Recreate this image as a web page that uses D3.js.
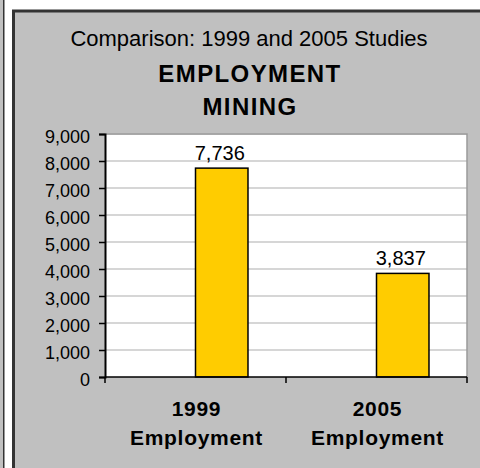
<!DOCTYPE html>
<html>
<head>
<meta charset="utf-8">
<script src="https://cdn.jsdelivr.net/npm/d3@7/dist/d3.min.js"></script>
<style>
  html, body { margin: 0; padding: 0; background: #ffffff; }
  svg { display: block; font-family: "Liberation Sans", Arial, sans-serif; }
</style>
</head>
<body>
<svg id="chart" width="480" height="468"></svg>
<script>
// Mining employment, 1999 vs 2005 studies
const categories = ["1999 Employment", "2005 Employment"];
const categoryLines = [["1999", "Employment"], ["2005", "Employment"]];
const employment = [7736, 3837];
const yTicks = [0, 1000, 2000, 3000, 4000, 5000, 6000, 7000, 8000, 9000];
const titleLines = ["Comparison: 1999 and 2005 Studies", "EMPLOYMENT", "MINING"];

const svg = d3.select("#chart");
const W = 480, H = 468;

// Left strip and chart frame
svg.append("rect").attr("x", 0).attr("y", 0).attr("width", 3).attr("height", H).attr("fill", "#c0c0c0");
svg.append("rect").attr("x", 3).attr("y", 0).attr("width", 1.5).attr("height", H).attr("fill", "#333333");
svg.append("rect").attr("x", 13.5).attr("y", 11).attr("width", W).attr("height", H)
  .attr("fill", "#c0c0c0").attr("stroke", "#333333").attr("stroke-width", 3);

// Plot area
const plot = { left: 105, right: 467, top: 134, bottom: 377 };

const x = d3.scaleBand().domain(categories).range([plot.left, plot.right]).padding(0);
const y = d3.scaleLinear().domain([0, 9000]).range([plot.bottom, plot.top]);

svg.append("rect")
  .attr("x", plot.left).attr("y", plot.top)
  .attr("width", plot.right - plot.left).attr("height", plot.bottom - plot.top)
  .attr("fill", "#ffffff");

// Gridlines
svg.append("g")
  .selectAll("line")
  .data(yTicks.filter(d => d > 0))
  .join("line")
  .attr("x1", plot.left).attr("x2", plot.right)
  .attr("y1", d => y(d)).attr("y2", d => y(d))
  .attr("stroke", "#c8c8c8").attr("stroke-width", 1.5);

// Plot border (top and right)
svg.append("path")
  .attr("d", `M${plot.left},${plot.top}H${plot.right}V${plot.bottom}`)
  .attr("fill", "none").attr("stroke", "#9a9a9a").attr("stroke-width", 1.5);

// Bars (each sits in the right half of its category band)
const barW = x.bandwidth() * 0.29;
svg.append("g")
  .selectAll("rect")
  .data(categories.map((c, i) => ({ c, v: employment[i] })))
  .join("rect")
  .attr("x", d => x(d.c) + x.bandwidth() / 2)
  .attr("y", d => y(d.v))
  .attr("width", barW)
  .attr("height", d => y(0) - y(d.v))
  .attr("fill", "#ffcc00")
  .attr("stroke", "#000000")
  .attr("stroke-width", 1.5);

// Value labels
svg.append("g")
  .selectAll("text")
  .data(categories.map((c, i) => ({ c, v: employment[i] })))
  .join("text")
  .attr("x", d => x(d.c) + x.bandwidth() / 2 + barW / 2 - 2)
  .attr("y", d => y(d.v) - 8)
  .attr("text-anchor", "middle")
  .attr("font-size", 20)
  .attr("fill", "#000")
  .text(d => d3.format(",")(d.v));

// Y axis
const yAxis = svg.append("g")
  .attr("transform", `translate(${plot.left},0)`)
  .call(d3.axisLeft(y).tickValues(yTicks).tickFormat(d3.format(",")).tickSize(6).tickPadding(9));
yAxis.select(".domain").attr("stroke", "#000").attr("stroke-width", 2);
yAxis.selectAll(".tick line").attr("stroke", "#000").attr("stroke-width", 1.5);
yAxis.selectAll(".tick text")
  .attr("font-size", 18).attr("font-family", "Liberation Sans, Arial, sans-serif")
  .attr("fill", "#000").attr("dy", "0.45em");

// X axis with ticks between categories
const xAxis = svg.append("g")
  .attr("transform", `translate(0,${plot.bottom})`);
xAxis.append("line")
  .attr("x1", plot.left).attr("x2", plot.right)
  .attr("stroke", "#000").attr("stroke-width", 1.5);
const boundaries = categories.map(c => x(c)).concat([x(categories[categories.length - 1]) + x.bandwidth()]);
xAxis.selectAll("line.tk")
  .data(boundaries)
  .join("line")
  .attr("class", "tk")
  .attr("x1", d => d).attr("x2", d => d)
  .attr("y1", 0).attr("y2", 6)
  .attr("stroke", "#000").attr("stroke-width", 1.5);

// Category labels (two lines, bold)
const catLabels = svg.append("g")
  .selectAll("text")
  .data(categories)
  .join("text")
  .attr("x", d => x(d) + x.bandwidth() / 2 + 1)
  .attr("text-anchor", "middle")
  .attr("font-size", 21)
  .attr("font-weight", "bold")
  .attr("letter-spacing", 0.7)
  .attr("fill", "#000");
catLabels.each(function (d, i) {
  const t = d3.select(this);
  categoryLines[i].forEach((ln, j) => {
    t.append("tspan")
      .attr("x", x(d) + x.bandwidth() / 2 + 1)
      .attr("y", 416 + j * 29)
      .text(ln);
  });
});

// Titles
const cx = 249;
svg.append("text")
  .attr("x", cx).attr("y", 46)
  .attr("text-anchor", "middle").attr("font-size", 22).attr("fill", "#000")
  .text(titleLines[0]);
svg.append("text")
  .attr("x", cx + 1).attr("y", 82)
  .attr("text-anchor", "middle").attr("font-size", 24).attr("font-weight", "bold")
  .attr("letter-spacing", 1.4).attr("fill", "#000")
  .text(titleLines[1]);
svg.append("text")
  .attr("x", cx + 1).attr("y", 115)
  .attr("text-anchor", "middle").attr("font-size", 24).attr("font-weight", "bold")
  .attr("letter-spacing", 1.4).attr("fill", "#000")
  .text(titleLines[2]);
</script>
</body>
</html>
